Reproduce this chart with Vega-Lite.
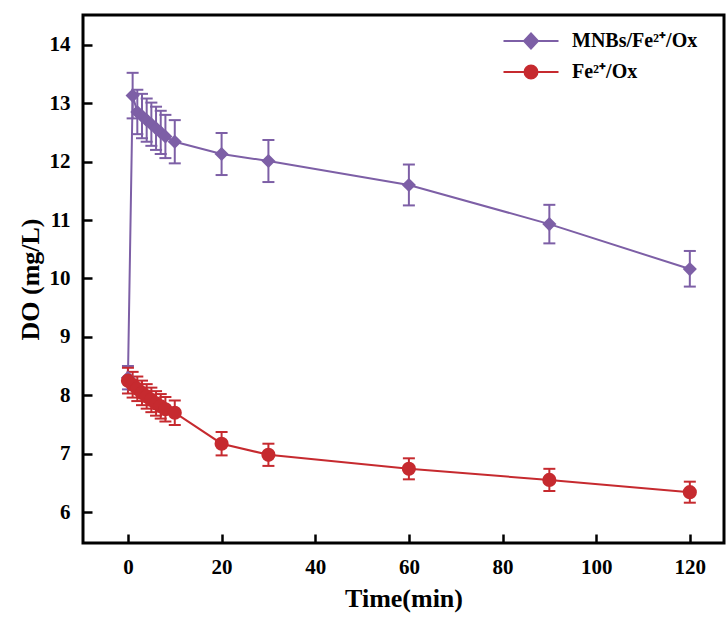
{
  "$schema": "https://vega.github.io/schema/vega-lite/v6.json",
  "width": 641,
  "height": 528,
  "autosize": "none",
  "padding": {"left": 83, "top": 15, "right": 4, "bottom": 74},
  "background": "white",
  "config": {
    "view": {"stroke": "black", "strokeWidth": 3},
    "axis": {
      "grid": false,
      "labelFont": "Liberation Serif",
      "labelFontWeight": "bold",
      "labelFontSize": 21,
      "labelColor": "black",
      "titleFont": "Liberation Serif",
      "titleFontWeight": "bold",
      "titleFontSize": 26,
      "titleColor": "black"
    }
  },
  "data": {
    "values": [
      {"series": "MNBs/Fe²⁺/Ox", "t": 0, "do": 8.3, "lo": 8.1, "hi": 8.5},
      {"series": "MNBs/Fe²⁺/Ox", "t": 1, "do": 13.13, "lo": 12.74, "hi": 13.52},
      {"series": "MNBs/Fe²⁺/Ox", "t": 2, "do": 12.85, "lo": 12.47, "hi": 13.23},
      {"series": "MNBs/Fe²⁺/Ox", "t": 3, "do": 12.78, "lo": 12.4, "hi": 13.16},
      {"series": "MNBs/Fe²⁺/Ox", "t": 4, "do": 12.71, "lo": 12.34, "hi": 13.08},
      {"series": "MNBs/Fe²⁺/Ox", "t": 5, "do": 12.64, "lo": 12.27, "hi": 13.01},
      {"series": "MNBs/Fe²⁺/Ox", "t": 6, "do": 12.57, "lo": 12.2, "hi": 12.94},
      {"series": "MNBs/Fe²⁺/Ox", "t": 7, "do": 12.5, "lo": 12.13, "hi": 12.87},
      {"series": "MNBs/Fe²⁺/Ox", "t": 8, "do": 12.43, "lo": 12.06, "hi": 12.8},
      {"series": "MNBs/Fe²⁺/Ox", "t": 10, "do": 12.34, "lo": 11.97, "hi": 12.71},
      {"series": "MNBs/Fe²⁺/Ox", "t": 20, "do": 12.13, "lo": 11.77, "hi": 12.49},
      {"series": "MNBs/Fe²⁺/Ox", "t": 30, "do": 12.01, "lo": 11.65, "hi": 12.37},
      {"series": "MNBs/Fe²⁺/Ox", "t": 60, "do": 11.6, "lo": 11.25, "hi": 11.95},
      {"series": "MNBs/Fe²⁺/Ox", "t": 90, "do": 10.93, "lo": 10.6, "hi": 11.26},
      {"series": "MNBs/Fe²⁺/Ox", "t": 120, "do": 10.16, "lo": 9.86, "hi": 10.47},
      {"series": "Fe²⁺/Ox", "t": 0, "do": 8.25, "lo": 8.03, "hi": 8.47},
      {"series": "Fe²⁺/Ox", "t": 1, "do": 8.18, "lo": 7.96, "hi": 8.4},
      {"series": "Fe²⁺/Ox", "t": 2, "do": 8.11, "lo": 7.9, "hi": 8.32},
      {"series": "Fe²⁺/Ox", "t": 3, "do": 8.04, "lo": 7.83, "hi": 8.25},
      {"series": "Fe²⁺/Ox", "t": 4, "do": 7.98, "lo": 7.77, "hi": 8.19},
      {"series": "Fe²⁺/Ox", "t": 5, "do": 7.92, "lo": 7.71, "hi": 8.13},
      {"series": "Fe²⁺/Ox", "t": 6, "do": 7.86, "lo": 7.65, "hi": 8.07},
      {"series": "Fe²⁺/Ox", "t": 7, "do": 7.81, "lo": 7.6, "hi": 8.02},
      {"series": "Fe²⁺/Ox", "t": 8, "do": 7.76, "lo": 7.55, "hi": 7.97},
      {"series": "Fe²⁺/Ox", "t": 10, "do": 7.7, "lo": 7.49, "hi": 7.91},
      {"series": "Fe²⁺/Ox", "t": 20, "do": 7.17, "lo": 6.97, "hi": 7.37},
      {"series": "Fe²⁺/Ox", "t": 30, "do": 6.98, "lo": 6.79, "hi": 7.17},
      {"series": "Fe²⁺/Ox", "t": 60, "do": 6.74, "lo": 6.56, "hi": 6.92},
      {"series": "Fe²⁺/Ox", "t": 90, "do": 6.55, "lo": 6.36, "hi": 6.74},
      {"series": "Fe²⁺/Ox", "t": 120, "do": 6.34, "lo": 6.16, "hi": 6.52}
    ]
  },
  "layer": [
    {
      "mark": {"type": "line", "strokeWidth": 2},
      "encoding": {
        "x": {
          "field": "t", "type": "quantitative",
          "scale": {"domain": [-9.6, 127.3], "nice": false, "zero": false},
          "axis": {"title": "Time(min)", "tickCount": 7, "domain": false, "ticks": true, "tickSize": -9, "tickColor": "black", "tickWidth": 2.5, "zindex": 1, "labelPadding": 22, "titlePadding": 8}
        },
        "y": {
          "field": "do", "type": "quantitative",
          "scale": {"domain": [5.47, 14.51], "nice": false, "zero": false},
          "axis": {"title": "DO (mg/L)", "format": "d", "tickCount": 9, "domain": false, "ticks": true, "tickSize": -9, "tickColor": "black", "tickWidth": 2.5, "zindex": 1, "labelPadding": 22, "titlePadding": 6}
        },
        "color": {
          "field": "series", "type": "nominal",
          "scale": {"domain": ["MNBs/Fe²⁺/Ox", "Fe²⁺/Ox"], "range": ["#7d5fa6", "#c62a2f"]},
          "legend": {
            "title": null,
            "orient": "none",
            "legendX": 437,
            "legendY": 15,
            "padding": 0,
            "symbolSize": 400,
            "labelOffset": 30,
            "rowPadding": 8,
            "labelFont": "Liberation Serif",
            "labelFontWeight": "bold",
            "labelFontSize": 20,
            "labelColor": "black",
            "encode": {
              "symbols": {
                "update": {
                  "shape": {"signal": "indexof(datum.value, 'MNBs') >= 0 ? 'M-2.75,0H2.75M0,-0.75L0.7,0L0,0.75L-0.7,0Z' : 'M-2.75,0H2.75M-0.65,0A0.65,0.65,0,1,1,0.65,0A0.65,0.65,0,1,1,-0.65,0Z'"},
                  "fill": {"scale": "color", "field": "value"},
                  "stroke": {"scale": "color", "field": "value"},
                  "strokeWidth": {"value": 2},
                  "opacity": {"value": 1},
                  "fillOpacity": {"value": 1}
                }
              }
            }
          }
        },
        "detail": {"field": "series"},
        "order": {"field": "t"}
      }
    },
    {
      "mark": {"type": "rule", "strokeWidth": 2},
      "encoding": {
        "x": {"field": "t", "type": "quantitative"},
        "y": {"field": "lo", "type": "quantitative"},
        "y2": {"field": "hi"},
        "color": {"field": "series", "type": "nominal", "legend": null}
      }
    },
    {
      "mark": {"type": "tick", "orient": "horizontal", "size": 12, "thickness": 2, "opacity": 1},
      "encoding": {
        "x": {"field": "t", "type": "quantitative"},
        "y": {"field": "lo", "type": "quantitative"},
        "color": {"field": "series", "type": "nominal", "legend": null}
      }
    },
    {
      "mark": {"type": "tick", "orient": "horizontal", "size": 12, "thickness": 2, "opacity": 1},
      "encoding": {
        "x": {"field": "t", "type": "quantitative"},
        "y": {"field": "hi", "type": "quantitative"},
        "color": {"field": "series", "type": "nominal", "legend": null}
      }
    },
    {
      "mark": {"type": "point", "filled": true, "opacity": 1, "size": 200},
      "encoding": {
        "x": {"field": "t", "type": "quantitative"},
        "y": {"field": "do", "type": "quantitative"},
        "color": {"field": "series", "type": "nominal", "legend": null},
        "shape": {
          "condition": {"test": "indexof(datum.series, 'MNBs') >= 0", "value": "diamond"},
          "value": "circle"
        }
      }
    }
  ]
}
